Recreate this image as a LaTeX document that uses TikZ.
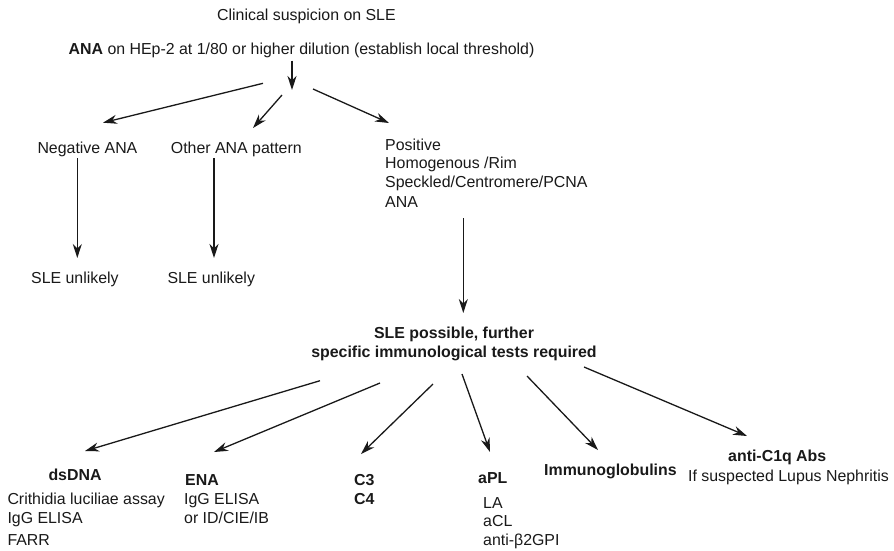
\documentclass[tikz,border=0pt]{standalone}
\usepackage{fontspec}
\setmainfont{Liberation Sans}
\usetikzlibrary{arrows.meta}
\definecolor{ink}{RGB}{25,25,25}
\begin{document}
\begin{tikzpicture}[x=1pt,y=-1pt,
  txt/.style={anchor=base west, inner sep=0pt, font=\fontsize{15.9}{19}\selectfont, text=ink},
  btxt/.style={txt, font=\fontsize{15.9}{19}\selectfont\bfseries},
  ctxt/.style={txt, anchor=base, font=\fontsize{15.9}{19}\selectfont\bfseries},
  arr/.style={-{Stealth[length=14pt,width=9pt,inset=4.5pt]}, line width=1.3pt, draw=ink}]
\useasboundingbox (0,0) rectangle (894,550);
% texts
\node[txt] (clin) at (217,20) {Clinical suspicion on SLE};
\node[txt] (ana) at (68.5,54.5) {\textbf{ANA} on HEp-2 at 1/80 or higher dilution (establish local threshold)};
\node[txt] (neg) at (37.3,153.5) {Negative ANA};
\node[txt] (oth) at (170.7,153.5) {Other ANA pattern};
\node[txt] (pos1) at (385,150) {Positive};
\node[txt] (pos2) at (385,168.5) {Homogenous /Rim};
\node[txt] (pos3) at (385,187.5) {Speckled/Centromere/PCNA};
\node[txt] (pos4) at (385,207) {ANA};
\node[txt] (un1) at (31,283.3) {SLE unlikely};
\node[txt] (un2) at (167.3,283.3) {SLE unlikely};
\node[ctxt] (sle1) at (454,338.3) {SLE possible, further};
\node[ctxt] (sle2) at (454,357.3) {specific immunological tests required};
\node[btxt] (ds) at (48.3,480.7) {dsDNA};
\node[txt] (ds1) at (7.3,504) {Crithidia luciliae assay};
\node[txt] (ds2) at (7.3,523.5) {IgG ELISA};
\node[txt] (ds3) at (7.3,545) {FARR};
\node[btxt] (ena) at (185,485) {ENA};
\node[txt] (ena1) at (184,504) {IgG ELISA};
\node[txt] (ena2) at (184,523.5) {or ID/CIE/IB};
\node[btxt] (c3) at (354,485) {C3};
\node[btxt] (c4) at (354,504) {C4};
\node[btxt] (apl) at (478,483) {aPL};
\node[txt] (apl1) at (483,508) {LA};
\node[txt] (apl2) at (483,526.7) {aCL};
\node[txt] (apl3) at (483,545) {anti-β2GPI};
\node[btxt] (ig) at (544,475) {Immunoglobulins};
\node[btxt] (c1q) at (728,461.7) {anti-C1q Abs};
\node[txt] (c1q1) at (688,481.7) {If suspected Lupus Nephritis};
% connector ends
\coordinate (a0) at (292,60.7);  \coordinate (a1) at (292,90);
\coordinate (b0) at (263,83.3);  \coordinate (b1) at (103,122.7);
\coordinate (c0) at (282,95);    \coordinate (c1) at (253,128);
\coordinate (d0) at (313,89);    \coordinate (d1) at (389,123);
\coordinate (e0) at (77.3,158);  \coordinate (e1) at (77.3,258);
\coordinate (f0) at (214,158);   \coordinate (f1) at (214,258);
\coordinate (g0) at (463.3,218); \coordinate (g1) at (463.3,313);
\coordinate (h0) at (320,380.7); \coordinate (h1) at (85,451);
\coordinate (i0) at (380,383);   \coordinate (i1) at (214,452);
\coordinate (j0) at (433,384);   \coordinate (j1) at (361,454);
\coordinate (k0) at (462,374);   \coordinate (k1) at (490,452);
\coordinate (l0) at (527,376);   \coordinate (l1) at (598,450);
\coordinate (m0) at (584,367);   \coordinate (m1) at (747,436);
\foreach \p in {a,b,c,d,e,f,g,h,i,j,k,l,m}{\draw[arr] (\p0) -- (\p1);}
\end{tikzpicture}
\end{document}
